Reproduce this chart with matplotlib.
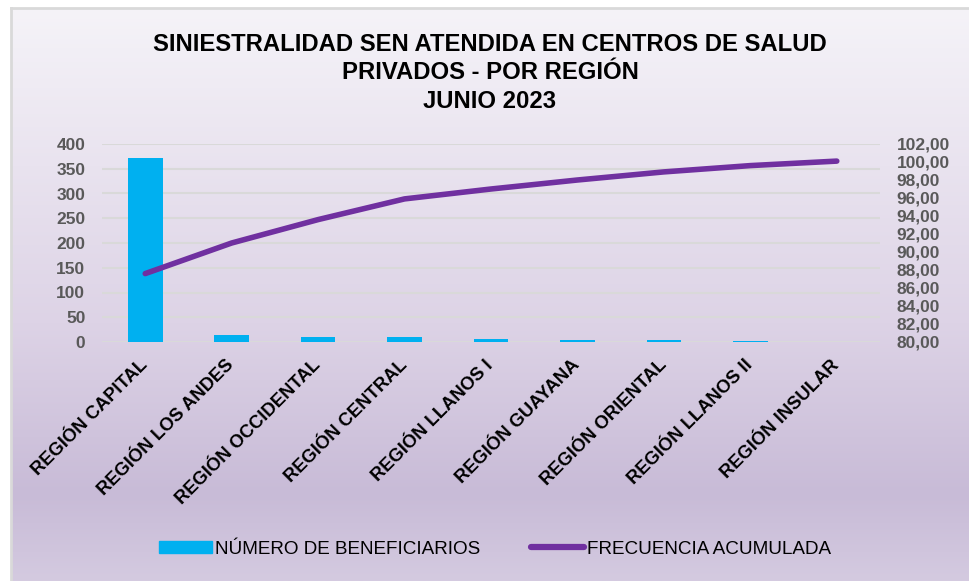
import numpy as np
import matplotlib
matplotlib.use("Agg")
import matplotlib.pyplot as plt
from matplotlib.colors import LinearSegmentedColormap
from matplotlib.patches import Rectangle
from matplotlib.lines import Line2D

plt.rcParams['font.family'] = ['Liberation Sans', 'DejaVu Sans']

categories = ["REGIÓN CAPITAL", "REGIÓN LOS ANDES", "REGIÓN OCCIDENTAL", "REGIÓN CENTRAL",
              "REGIÓN LLANOS I", "REGIÓN GUAYANA", "REGIÓN ORIENTAL", "REGIÓN LLANOS II",
              "REGIÓN INSULAR"]
beneficiarios = [372, 14, 11, 10, 6, 4, 4, 3, 1]
frecuencia_acumulada = [87.6, 91.0, 93.6, 95.9, 97.0, 98.0, 98.9, 99.6, 100.1]
left_ticks = [0, 50, 100, 150, 200, 250, 300, 350, 400]
right_ticks = [80, 82, 84, 86, 88, 90, 92, 94, 96, 98, 100, 102]

W, H = 970, 581
fig = plt.figure(figsize=(W / 100, H / 100), dpi=100)
fig.patch.set_facecolor('white')

# gradient background
bg = fig.add_axes([11 / W, 0, 1 - 11 / W, 1 - 8 / H])
cmap = LinearSegmentedColormap.from_list('bg', [(0, '#f5f3f8'), (0.55, '#ddd3e6'), (0.85, '#c8bbd7'), (1.0, '#d4cae0')])
grad = np.linspace(0, 1, 256).reshape(-1, 1)
bg.imshow(grad, aspect='auto', cmap=cmap, extent=[0, 1, 0, 1], origin='upper')
bg.set_xlim(0, 1); bg.set_ylim(0, 1)
bg.set_axis_off()
bg.add_line(Line2D([0, 1], [1, 1], color='#d9d9d9', lw=2, transform=bg.transAxes, clip_on=False))
bg.add_line(Line2D([0, 0], [0, 1], color='#d9d9d9', lw=2, transform=bg.transAxes, clip_on=False))

ax = fig.add_axes([102 / W, 1 - 342 / H, (880 - 102) / W, (342 - 144) / H])
ax.set_facecolor('none')
x = np.arange(len(categories))
ax.bar(x, beneficiarios, width=0.4, color='#00b0f0', zorder=3)
ax.set_xlim(-0.5, len(categories) - 0.5)
ax.set_ylim(0, 400)
ax.set_yticks(left_ticks)
ax.yaxis.grid(True, color='#d9d9d9', lw=1.5, zorder=0)
ax.set_axisbelow(True)
for s in ax.spines.values():
    s.set_visible(False)
ax.tick_params(axis='y', length=0, pad=12, labelsize=12.5, labelcolor='#595959')
for t in ax.get_yticklabels():
    t.set_fontweight('bold')
ax.set_xticks(x)
ax.set_xticklabels(categories, rotation=45, ha='right', va='center', rotation_mode='anchor',
                   fontsize=13.2, fontweight='bold', color='black')
ax.tick_params(axis='x', length=0, pad=15)

ax2 = ax.twinx()
ax2.set_ylim(80, 102)
ax2.set_yticks(right_ticks)
ax2.set_yticklabels([f"{v:.2f}".replace('.', ',') for v in right_ticks])
for s in ax2.spines.values():
    s.set_visible(False)
ax2.tick_params(axis='y', length=0, pad=12, labelsize=12.5, labelcolor='#595959')
for t in ax2.get_yticklabels():
    t.set_fontweight('bold')
ax2.plot(x, frecuencia_acumulada, color='#7030a0', lw=4, solid_capstyle='round', zorder=4)

fig.text(490 / W, 1 - 33 / H, "SINIESTRALIDAD SEN ATENDIDA EN CENTROS DE SALUD\nPRIVADOS - POR REGIÓN\nJUNIO 2023",
         ha='center', va='top', fontsize=17.2, fontweight='bold', linespacing=1.3)

handles = [Rectangle((0, 0), 1, 1, color='#00b0f0'),
           Line2D([0], [0], color='#7030a0', lw=4.5, solid_capstyle='round')]
fig.legend(handles, ["NÚMERO DE BENEFICIARIOS", "FRECUENCIA ACUMULADA"], loc='center',
           bbox_to_anchor=(495 / W, 1 - 549 / H), ncol=2, frameon=False, fontsize=13.6,
           handlelength=2.8, handleheight=0.55, handletextpad=0.15, columnspacing=2.7)

fig.savefig('out.png', dpi=100)
